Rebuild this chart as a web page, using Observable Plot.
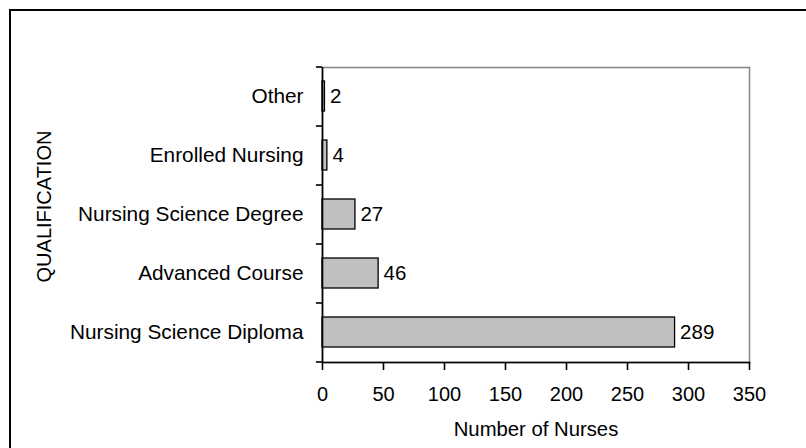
<!DOCTYPE html>
<html><head><meta charset="utf-8">
<script src="https://cdn.jsdelivr.net/npm/d3@7"></script>
<script src="https://cdn.jsdelivr.net/npm/@observablehq/plot@0.6"></script>
<style>
html,body{margin:0;padding:0;background:#fff;overflow:hidden;}
#wrap{position:relative;width:806px;height:448px;overflow:hidden;}
#border{position:absolute;left:9px;top:9px;width:806px;height:448px;border-left:2px solid #000;border-top:2px solid #000;box-sizing:border-box;pointer-events:none}
#chart{position:absolute;left:0;top:0}
</style></head><body>
<div id="wrap"><div id="chart"></div><div id="border"></div></div>
<script>
const categories = ["Other","Enrolled Nursing","Nursing Science Degree","Advanced Course","Nursing Science Diploma"];
const values = [2,4,27,46,289];
const xTicks = [0,50,100,150,200,250,300,350];
const xLabel = "Number of Nurses";
const yLabel = "QUALIFICATION";
const data = categories.map((c,i)=>({category:c, value: values[i]}));

const W=806,H=448, mt=67, mb=86, ml=322, mr=57;
const step = (H-mt-mb)/categories.length;
const font = "'Liberation Sans', Arial, Helvetica, sans-serif";
const plot = Plot.plot({
  width: W, height: H, marginTop: mt, marginBottom: mb, marginLeft: ml, marginRight: mr,
  style: {fontFamily: font, fontSize: "20px", background:"#fff", color:"#000"},
  x: {domain:[0,350], ticks: xTicks, label: null},
  y: {domain: categories, paddingInner: 0.49, paddingOuter: 0.245, label: null},
  marks: [
    Plot.frame({stroke:"#8a8a8a", strokeWidth:1.6}),
    Plot.barX(data, {x:"value", y:"category", fill:"#c0c0c0", stroke:"#000", strokeWidth:1.3}),
    Plot.ruleX([0], {stroke:"#000", strokeWidth:1.6}),
    Plot.frame({anchor:"bottom", stroke:"#000", strokeWidth:1.6}),
    Plot.ruleY(categories, {y: d=>d, x1: -5, x2: 0, dy: -step/2, stroke:"#000", strokeWidth:1.6, clip:false}),
    Plot.ruleY(categories.slice(-1), {y: d=>d, x1: -5, x2: 0, dy: step/2, stroke:"#000", strokeWidth:1.6, clip:false}),
    Plot.axisY({tickSize:0, tickPadding:19, fontSize:20.8, label:null}),
    Plot.axisX({ticks: xTicks, tickSize:8, tickPadding:16, fontSize:20, label:null, strokeWidth:1.6}),
    Plot.text(data, {x:"value", y:"category", text: d=>String(d.value), dx:5, textAnchor:"start", fontSize:20.5, fill:"#000"}),
    Plot.text([xLabel], {frameAnchor:"bottom", dy:67, lineAnchor:"middle", fontSize:20.3, fill:"#000"}),
    Plot.text([yLabel], {frameAnchor:"left", rotate:-90, dx:44.5-ml, dy:-8.5, textAnchor:"middle", lineAnchor:"middle", fontSize:20, fill:"#000"})
  ]
});
document.getElementById("chart").appendChild(plot);
</script>
</body></html>
